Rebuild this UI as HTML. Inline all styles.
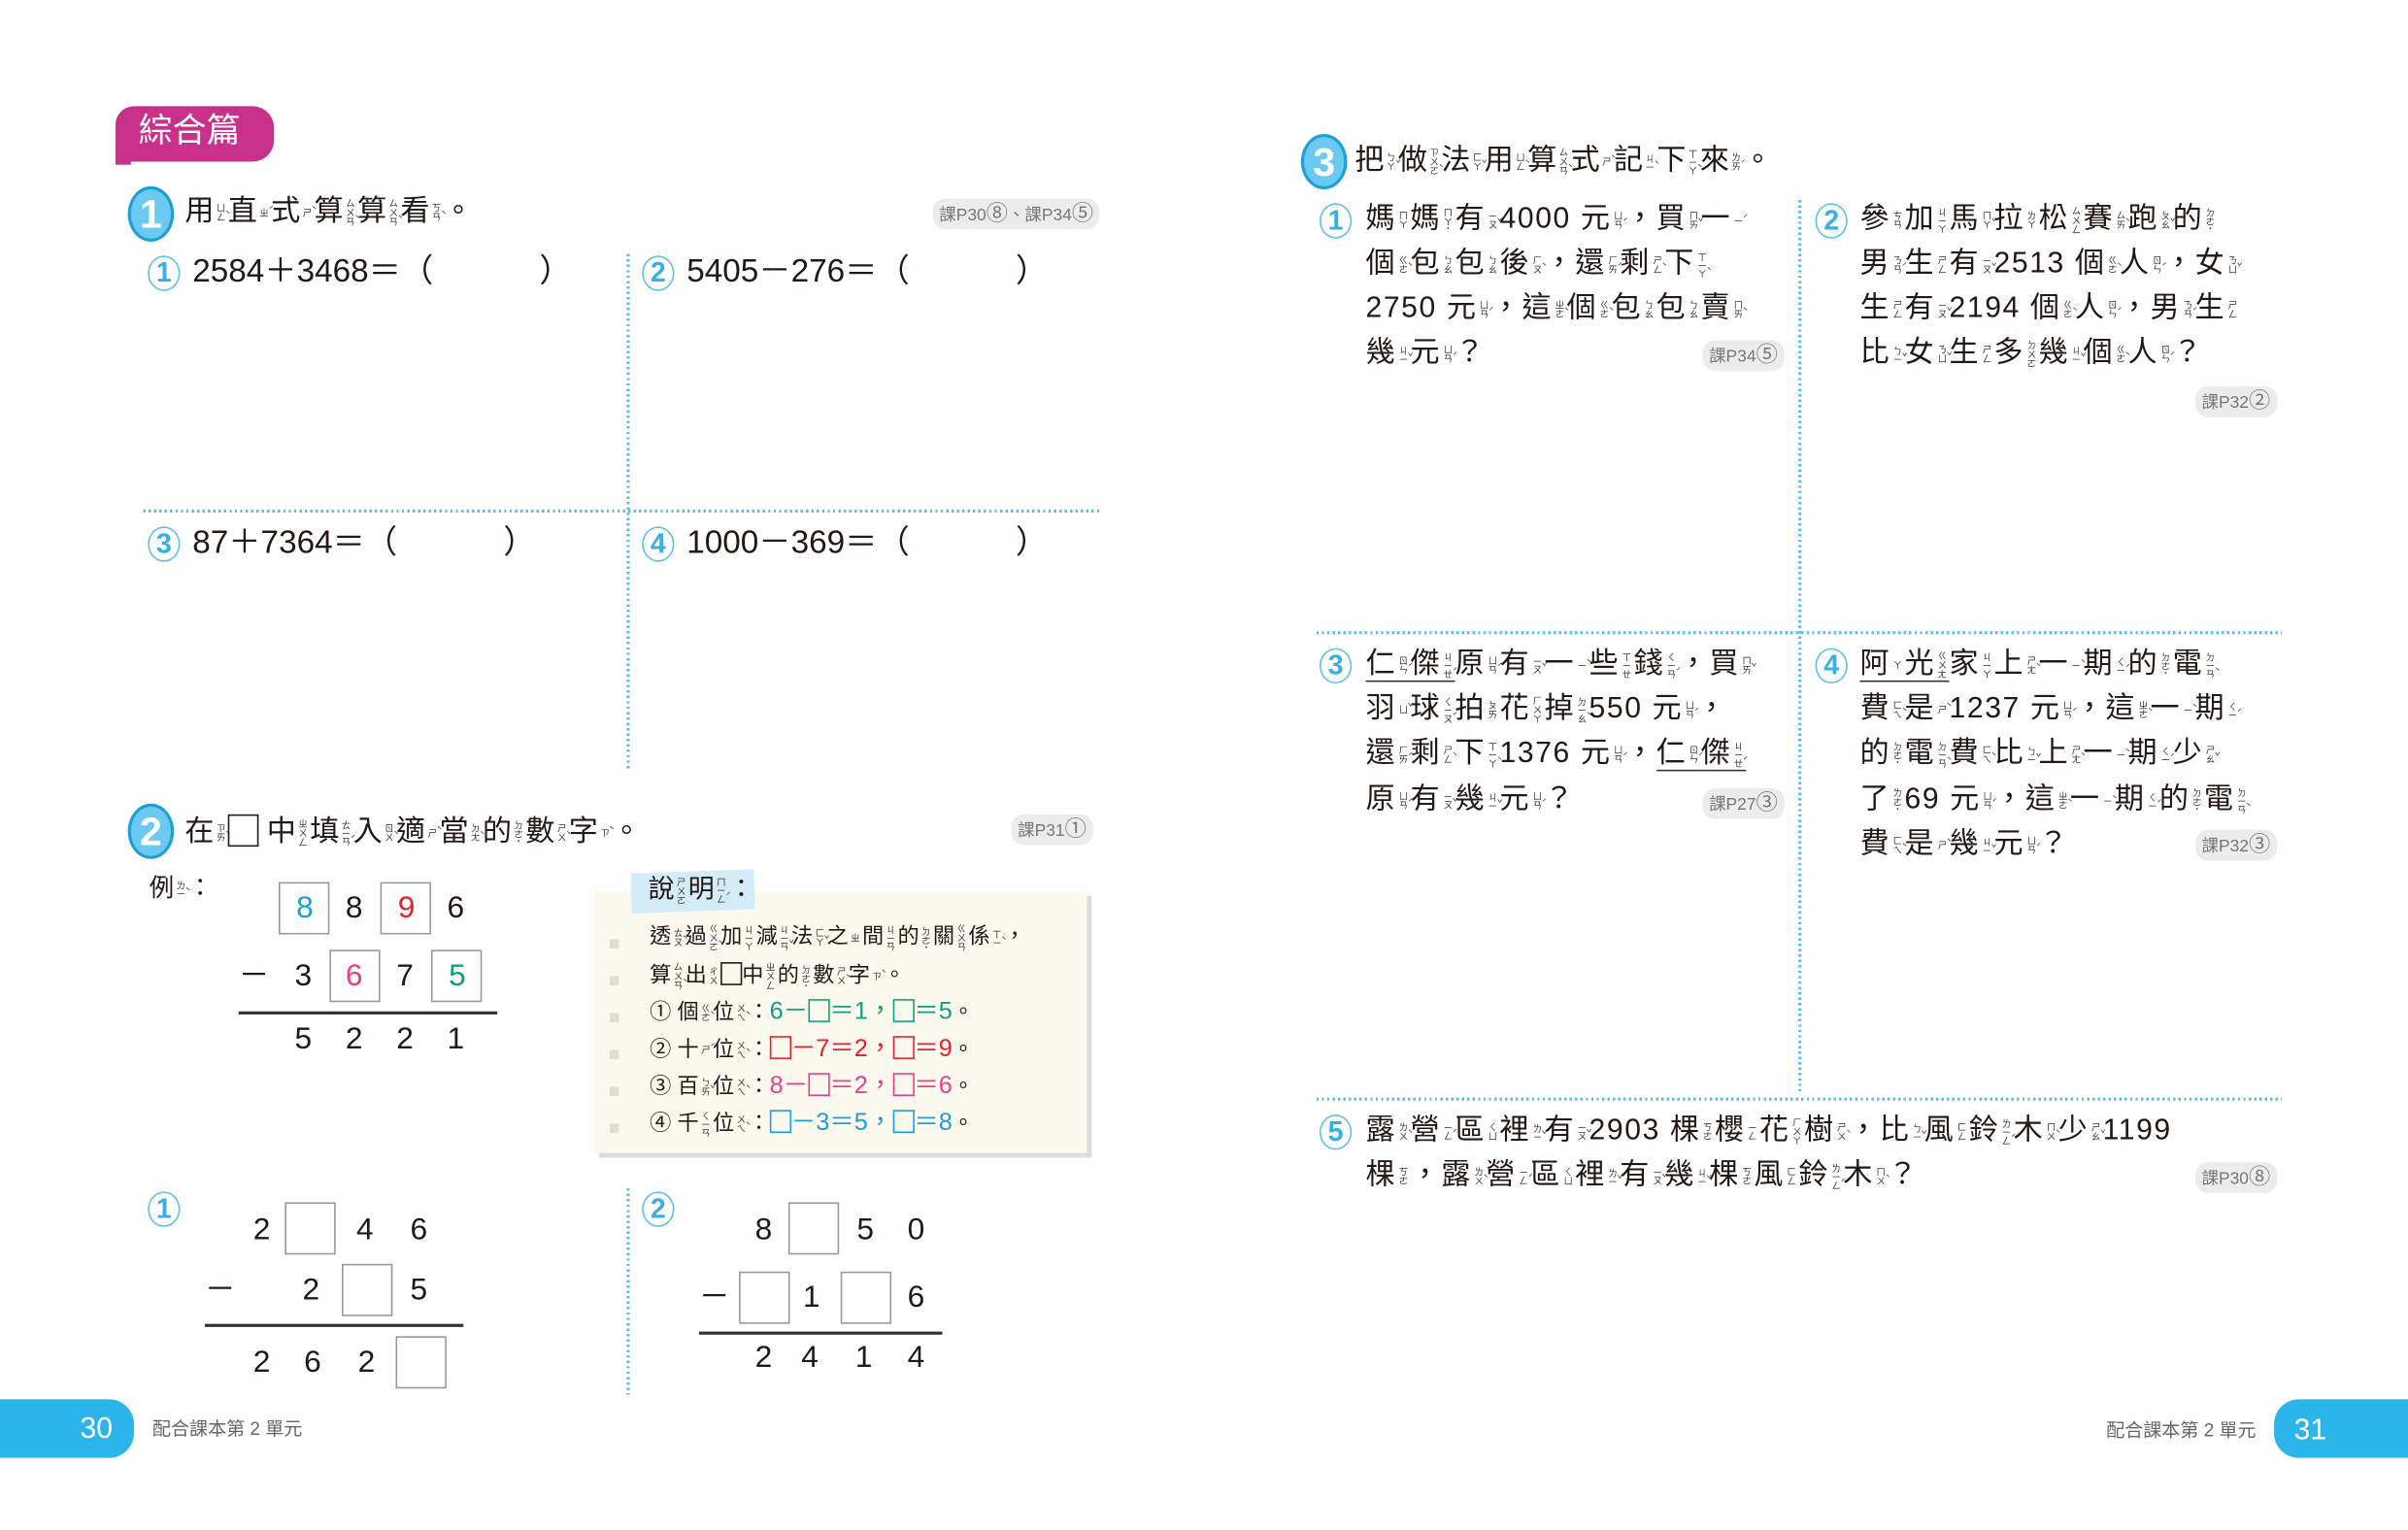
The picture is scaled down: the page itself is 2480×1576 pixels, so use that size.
<!DOCTYPE html>
<html><head><meta charset="utf-8">
<style>
html,body{margin:0;padding:0;background:#fff;}
body{width:2480px;height:1576px;overflow:hidden;position:relative;}
#s{position:absolute;left:0;top:0;width:1564px;height:994px;transform:scale(1.58568);transform-origin:0 0;font-family:"Liberation Sans","Noto Sans CJK TC",sans-serif;color:#231815;}
.t{position:absolute;white-space:nowrap;line-height:1;}
b{display:inline-block;writing-mode:vertical-rl;text-orientation:upright;font-size:6px;line-height:6px;font-weight:normal;vertical-align:middle;margin:0 2px 0 1px;font-family:"Noto Sans CJK TC",sans-serif;color:#333;letter-spacing:0;}
.big{position:absolute;width:26px;height:32px;border-radius:50%;background:#6ccaf2;border:2px solid #1f9fd9;color:#fff;font-weight:bold;font-size:26px;line-height:32px;text-align:center;font-family:"Liberation Sans",sans-serif;}
.c{position:absolute;width:19px;height:21px;border-radius:50%;border:1.5px solid #5bc0eb;color:#3aaee6;font-weight:bold;font-size:18px;line-height:21px;text-align:center;background:#fff;}
.bd{position:absolute;background:#ececec;border-radius:8px;font-size:11px;color:#777;padding:2px 4px;line-height:14px;white-space:nowrap;font-family:"Liberation Sans","Noto Sans CJK TC",sans-serif;}
.bd i{font-style:normal;font-size:14px;}
.vd{position:absolute;width:1.5px;background:repeating-linear-gradient(#5cbbe9 0,#5cbbe9 1.5px,transparent 1.5px,transparent 3.5px);}
.hd{position:absolute;height:1.5px;background:repeating-linear-gradient(90deg,#5cbbe9 0,#5cbbe9 1.5px,transparent 1.5px,transparent 3.5px);}
.bx{position:absolute;border:1px solid #999;background:#fff;box-sizing:border-box;}
.n{position:absolute;font-size:20px;line-height:1;width:20px;text-align:center;}
.sq{display:inline-block;width:14px;height:15px;border:1.2px solid currentColor;vertical-align:-2px;box-sizing:border-box;}
.q{font-size:19px;letter-spacing:1px;}
.hl{position:absolute;height:1.5px;background:#333;}
.u{border-bottom:1.5px solid #333;}
</style></head><body><div id="s">

<div style="position:absolute;left:75px;top:69px;width:103px;height:36px;background:#c8308a;border-radius:12px 14px 14px 0;"></div>
<div style="position:absolute;left:75px;top:95px;width:10px;height:12px;background:#c8308a;"></div>
<div class="t" style="left:90px;top:74px;font-size:22px;color:#fff;">綜合篇</div>

<div class="big" style="left:83px;top:121px;">1</div>
<div class="t" style="left:120px;top:128px;font-size:19px;">用<b>ㄩㄥˋ</b>直<b>ㄓˊ</b>式<b>ㄕˋ</b>算<b>ㄙㄨㄢˋ</b>算<b>ㄙㄨㄢˋ</b>看<b>ㄎㄢˋ</b>。</div>
<div class="bd" style="left:606px;top:129px;">課P30<i>⑧</i>、課P34<i>⑤</i></div>

<div class="c" style="left:96px;top:166px;">1</div>
<div class="t" style="left:125px;top:166px;font-size:21px;">2584＋3468＝（　　　 ）</div>
<div class="c" style="left:417px;top:166px;">2</div>
<div class="t" style="left:446px;top:166px;font-size:21px;">5405－276＝（　　　 ）</div>
<div class="vd" style="left:407px;top:165px;height:336px;"></div>
<div class="hd" style="left:93px;top:331px;width:622px;"></div>
<div class="c" style="left:96px;top:342px;">3</div>
<div class="t" style="left:125px;top:342px;font-size:21px;">87＋7364＝（　　　 ）</div>
<div class="c" style="left:417px;top:342px;">4</div>
<div class="t" style="left:446px;top:342px;font-size:21px;">1000－369＝（　　　 ）</div>

<div class="big" style="left:83px;top:522px;">2</div>
<div class="t" style="left:120px;top:529px;font-size:19px;">在<b>ㄗㄞˋ</b><span class="sq" style="width:20px;height:21px;vertical-align:-4px;"></span> 中<b>ㄓㄨㄥ</b>填<b>ㄊㄧㄢˊ</b>入<b>ㄖㄨˋ</b>適<b>ㄕˋ</b>當<b>ㄉㄤˋ</b>的<b>ㄉㄜ˙</b>數<b>ㄕㄨˋ</b>字<b>ㄗˋ</b>。</div>
<div class="bd" style="left:657px;top:529px;">課P31<i>①</i></div>

<div class="t" style="left:97px;top:570px;font-size:16px;">例<b>ㄌㄧˋ</b>：</div>
<div class="bx" style="left:181px;top:573px;width:33px;height:34px;"></div>
<div class="bx" style="left:247px;top:573px;width:33px;height:34px;"></div>
<div class="n" style="left:188px;top:580px;color:#1a9ee0;">8</div>
<div class="n" style="left:220px;top:580px;">8</div>
<div class="n" style="left:254px;top:580px;color:#e8202a;">9</div>
<div class="n" style="left:286px;top:580px;">6</div>
<div class="bx" style="left:214px;top:617px;width:33px;height:34px;"></div>
<div class="bx" style="left:280px;top:617px;width:33px;height:34px;"></div>
<div class="n" style="left:155px;top:624px;">－</div>
<div class="n" style="left:187px;top:624px;">3</div>
<div class="n" style="left:220px;top:624px;color:#e8408a;">6</div>
<div class="n" style="left:253px;top:624px;">7</div>
<div class="n" style="left:287px;top:624px;color:#10a080;">5</div>
<div class="hl" style="left:155px;top:657px;width:168px;"></div>
<div class="n" style="left:187px;top:665px;">5</div>
<div class="n" style="left:220px;top:665px;">2</div>
<div class="n" style="left:253px;top:665px;">2</div>
<div class="n" style="left:286px;top:665px;">1</div>

<div style="position:absolute;left:389px;top:582px;width:320px;height:170px;background:#ddd;"></div>
<div style="position:absolute;left:386px;top:579px;width:320px;height:170px;background:#fbf8ee;"></div>
<div style="position:absolute;left:396px;top:600px;width:6px;height:140px;background:repeating-linear-gradient(#fbf8ee 0,#fbf8ee 10px,#e0ddd5 10px,#e0ddd5 16px,#fbf8ee 16px,#fbf8ee 24px);"></div>
<div style="position:absolute;left:410px;top:566px;width:80px;height:26px;background:#d3ecf8;transform:rotate(-2deg);"></div>
<div class="t" style="left:421px;top:569px;font-size:17px;">說<b>ㄕㄨㄛ</b>明<b>ㄇㄧㄥˊ</b>：</div>
<div class="t" style="left:422px;top:600px;font-size:14px;">透<b>ㄊㄡˋ</b>過<b>ㄍㄨㄛˋ</b>加<b>ㄐㄧㄚ</b>減<b>ㄐㄧㄢˇ</b>法<b>ㄈㄚˇ</b>之<b>ㄓ</b>間<b>ㄐㄧㄢ</b>的<b>ㄉㄜ˙</b>關<b>ㄍㄨㄢ</b>係<b>ㄒㄧˋ</b>，</div>
<div class="t" style="left:422px;top:625px;font-size:14px;">算<b>ㄙㄨㄢˋ</b>出<b>ㄔㄨ</b><span class="sq"></span>中<b>ㄓㄨㄥ</b>的<b>ㄉㄜ˙</b>數<b>ㄕㄨˋ</b>字<b>ㄗˋ</b>。</div>
<div class="t" style="left:422px;top:649px;font-size:14px;">① 個<b>ㄍㄜˋ</b>位<b>ㄨㄟˋ</b>：<span style="color:#10a080;font-size:16px;">6－<span class="sq"></span>＝1，<span class="sq"></span>＝5</span>。</div>
<div class="t" style="left:422px;top:673px;font-size:14px;">② 十<b>ㄕˊ</b>位<b>ㄨㄟˋ</b>：<span style="color:#e8202a;font-size:16px;"><span class="sq"></span>－7＝2，<span class="sq"></span>＝9</span>。</div>
<div class="t" style="left:422px;top:697px;font-size:14px;">③ 百<b>ㄅㄞˇ</b>位<b>ㄨㄟˋ</b>：<span style="color:#e8408a;font-size:16px;">8－<span class="sq"></span>＝2，<span class="sq"></span>＝6</span>。</div>
<div class="t" style="left:422px;top:721px;font-size:14px;">④ 千<b>ㄑㄧㄢ</b>位<b>ㄨㄟˋ</b>：<span style="color:#1a9ee0;font-size:16px;"><span class="sq"></span>－3＝5，<span class="sq"></span>＝8</span>。</div>

<div class="c" style="left:96px;top:774px;">1</div>
<div class="bx" style="left:185px;top:781px;width:33px;height:34px;"></div>
<div class="n" style="left:160px;top:789px;">2</div>
<div class="n" style="left:227px;top:789px;">4</div>
<div class="n" style="left:262px;top:789px;">6</div>
<div class="bx" style="left:222px;top:821px;width:33px;height:34px;"></div>
<div class="n" style="left:133px;top:828px;">－</div>
<div class="n" style="left:192px;top:828px;">2</div>
<div class="n" style="left:262px;top:828px;">5</div>
<div class="hl" style="left:133px;top:860px;width:168px;"></div>
<div class="bx" style="left:257px;top:868px;width:33px;height:34px;"></div>
<div class="n" style="left:160px;top:875px;">2</div>
<div class="n" style="left:193px;top:875px;">6</div>
<div class="n" style="left:228px;top:875px;">2</div>

<div class="vd" style="left:407px;top:772px;height:134px;"></div>
<div class="c" style="left:417px;top:774px;">2</div>
<div class="bx" style="left:512px;top:781px;width:33px;height:34px;"></div>
<div class="n" style="left:486px;top:789px;">8</div>
<div class="n" style="left:552px;top:789px;">5</div>
<div class="n" style="left:585px;top:789px;">0</div>
<div class="bx" style="left:480px;top:826px;width:33px;height:34px;"></div>
<div class="bx" style="left:546px;top:826px;width:33px;height:34px;"></div>
<div class="n" style="left:454px;top:833px;">－</div>
<div class="n" style="left:517px;top:833px;">1</div>
<div class="n" style="left:585px;top:833px;">6</div>
<div class="hl" style="left:454px;top:865px;width:158px;"></div>
<div class="n" style="left:486px;top:872px;">2</div>
<div class="n" style="left:516px;top:872px;">4</div>
<div class="n" style="left:551px;top:872px;">1</div>
<div class="n" style="left:585px;top:872px;">4</div>

<div style="position:absolute;left:0;top:909px;width:87px;height:38px;background:#2cb5ea;border-radius:0 16px 16px 0;"></div>
<div class="t" style="left:52px;top:919px;font-size:19px;color:#fff;">30</div>
<div class="t" style="left:99px;top:922px;font-size:12px;color:#666;">配合課本第 2 單元</div>
<div style="position:absolute;left:1477px;top:909px;width:87px;height:38px;background:#2cb5ea;border-radius:16px 0 0 16px;"></div>
<div class="t" style="left:1490px;top:920px;font-size:19px;color:#fff;">31</div>
<div class="t" style="left:1368px;top:923px;font-size:12px;color:#666;">配合課本第 2 單元</div>

<div class="big" style="left:845px;top:87px;">3</div>
<div class="t" style="left:880px;top:95px;font-size:19px;">把<b>ㄅㄚˇ</b>做<b>ㄗㄨㄛˋ</b>法<b>ㄈㄚˇ</b>用<b>ㄩㄥˋ</b>算<b>ㄙㄨㄢˋ</b>式<b>ㄕˋ</b>記<b>ㄐㄧˋ</b>下<b>ㄒㄧㄚˋ</b>來<b>ㄌㄞˊ</b>。</div>

<div class="vd" style="left:1168px;top:130px;height:580px;"></div>
<div class="hd" style="left:855px;top:410px;width:627px;"></div>
<div class="hd" style="left:855px;top:713px;width:627px;"></div>

<div class="c" style="left:857px;top:132px;">1</div>
<div class="t q" style="left:887px;top:133px;">媽<b>ㄇㄚ</b>媽<b>ㄇㄚ˙</b>有<b>ㄧㄡˇ</b>4000 元<b>ㄩㄢˊ</b>，買<b>ㄇㄞˇ</b>一<b>ㄧˊ</b></div>
<div class="t q" style="left:887px;top:162px;">個<b>ㄍㄜˋ</b>包<b>ㄅㄠ</b>包<b>ㄅㄠ</b>後<b>ㄏㄡˋ</b>，還<b>ㄏㄞˊ</b>剩<b>ㄕㄥˋ</b>下<b>ㄒㄧㄚˋ</b></div>
<div class="t q" style="left:887px;top:191px;">2750 元<b>ㄩㄢˊ</b>，這<b>ㄓㄜˋ</b>個<b>ㄍㄜˋ</b>包<b>ㄅㄠ</b>包<b>ㄅㄠ</b>賣<b>ㄇㄞˋ</b></div>
<div class="t q" style="left:887px;top:220px;">幾<b>ㄐㄧˇ</b>元<b>ㄩㄢˊ</b>？</div>
<div class="bd" style="left:1106px;top:221px;">課P34<i>⑤</i></div>

<div class="c" style="left:1179px;top:132px;">2</div>
<div class="t q" style="left:1208px;top:133px;">參<b>ㄘㄢ</b>加<b>ㄐㄧㄚ</b>馬<b>ㄇㄚˇ</b>拉<b>ㄌㄚ</b>松<b>ㄙㄨㄥ</b>賽<b>ㄙㄞˋ</b>跑<b>ㄆㄠˇ</b>的<b>ㄉㄜ˙</b></div>
<div class="t q" style="left:1208px;top:162px;">男<b>ㄋㄢˊ</b>生<b>ㄕㄥ</b>有<b>ㄧㄡˇ</b>2513 個<b>ㄍㄜˋ</b>人<b>ㄖㄣˊ</b>，女<b>ㄋㄩˇ</b></div>
<div class="t q" style="left:1208px;top:191px;">生<b>ㄕㄥ</b>有<b>ㄧㄡˇ</b>2194 個<b>ㄍㄜˋ</b>人<b>ㄖㄣˊ</b>，男<b>ㄋㄢˊ</b>生<b>ㄕㄥ</b></div>
<div class="t q" style="left:1208px;top:220px;">比<b>ㄅㄧˇ</b>女<b>ㄋㄩˇ</b>生<b>ㄕㄥ</b>多<b>ㄉㄨㄛ</b>幾<b>ㄐㄧˇ</b>個<b>ㄍㄜˋ</b>人<b>ㄖㄣˊ</b>？</div>
<div class="bd" style="left:1426px;top:251px;">課P32<i>②</i></div>

<div class="c" style="left:857px;top:421px;">3</div>
<div class="t q" style="left:887px;top:422px;"><span class="u">仁<b>ㄖㄣˊ</b>傑<b>ㄐㄧㄝˊ</b></span>原<b>ㄩㄢˊ</b>有<b>ㄧㄡˇ</b>一<b>ㄧˋ</b>些<b>ㄒㄧㄝ</b>錢<b>ㄑㄧㄢˊ</b>，買<b>ㄇㄞˇ</b></div>
<div class="t q" style="left:887px;top:451px;">羽<b>ㄩˇ</b>球<b>ㄑㄧㄡˊ</b>拍<b>ㄆㄞ</b>花<b>ㄏㄨㄚ</b>掉<b>ㄉㄧㄠˋ</b>550 元<b>ㄩㄢˊ</b>，</div>
<div class="t q" style="left:887px;top:480px;">還<b>ㄏㄞˊ</b>剩<b>ㄕㄥˋ</b>下<b>ㄒㄧㄚˋ</b>1376 元<b>ㄩㄢˊ</b>，<span class="u">仁<b>ㄖㄣˊ</b>傑<b>ㄐㄧㄝˊ</b></span></div>
<div class="t q" style="left:887px;top:510px;">原<b>ㄩㄢˊ</b>有<b>ㄧㄡˇ</b>幾<b>ㄐㄧˇ</b>元<b>ㄩㄢˊ</b>？</div>
<div class="bd" style="left:1106px;top:512px;">課P27<i>③</i></div>

<div class="c" style="left:1179px;top:421px;">4</div>
<div class="t q" style="left:1208px;top:422px;"><span class="u">阿<b>ㄚ</b>光<b>ㄍㄨㄤ</b></span>家<b>ㄐㄧㄚ</b>上<b>ㄕㄤˋ</b>一<b>ㄧˋ</b>期<b>ㄑㄧˊ</b>的<b>ㄉㄜ˙</b>電<b>ㄉㄧㄢˋ</b></div>
<div class="t q" style="left:1208px;top:451px;">費<b>ㄈㄟˋ</b>是<b>ㄕˋ</b>1237 元<b>ㄩㄢˊ</b>，這<b>ㄓㄜˋ</b>一<b>ㄧˋ</b>期<b>ㄑㄧˊ</b></div>
<div class="t q" style="left:1208px;top:480px;">的<b>ㄉㄜ˙</b>電<b>ㄉㄧㄢˋ</b>費<b>ㄈㄟˋ</b>比<b>ㄅㄧˇ</b>上<b>ㄕㄤˋ</b>一<b>ㄧˋ</b>期<b>ㄑㄧˊ</b>少<b>ㄕㄠˇ</b></div>
<div class="t q" style="left:1208px;top:510px;">了<b>ㄌㄜ˙</b>69 元<b>ㄩㄢˊ</b>，這<b>ㄓㄜˋ</b>一<b>ㄧˋ</b>期<b>ㄑㄧˊ</b>的<b>ㄉㄜ˙</b>電<b>ㄉㄧㄢˋ</b></div>
<div class="t q" style="left:1208px;top:539px;">費<b>ㄈㄟˋ</b>是<b>ㄕˋ</b>幾<b>ㄐㄧˇ</b>元<b>ㄩㄢˊ</b>？</div>
<div class="bd" style="left:1426px;top:539px;">課P32<i>③</i></div>

<div class="c" style="left:857px;top:724px;">5</div>
<div class="t q" style="left:887px;top:725px;">露<b>ㄌㄨˋ</b>營<b>ㄧㄥˊ</b>區<b>ㄑㄩ</b>裡<b>ㄌㄧˇ</b>有<b>ㄧㄡˇ</b>2903 棵<b>ㄎㄜ</b>櫻<b>ㄧㄥ</b>花<b>ㄏㄨㄚ</b>樹<b>ㄕㄨˋ</b>，比<b>ㄅㄧˇ</b>風<b>ㄈㄥ</b>鈴<b>ㄌㄧㄥˊ</b>木<b>ㄇㄨˋ</b>少<b>ㄕㄠˇ</b>1199</div>
<div class="t q" style="left:887px;top:754px;">棵<b>ㄎㄜ</b>，露<b>ㄌㄨˋ</b>營<b>ㄧㄥˊ</b>區<b>ㄑㄩ</b>裡<b>ㄌㄧˇ</b>有<b>ㄧㄡˇ</b>幾<b>ㄐㄧˇ</b>棵<b>ㄎㄜ</b>風<b>ㄈㄥ</b>鈴<b>ㄌㄧㄥˊ</b>木<b>ㄇㄨˋ</b>？</div>
<div class="bd" style="left:1426px;top:755px;">課P30<i>⑧</i></div>

</div></body></html>
